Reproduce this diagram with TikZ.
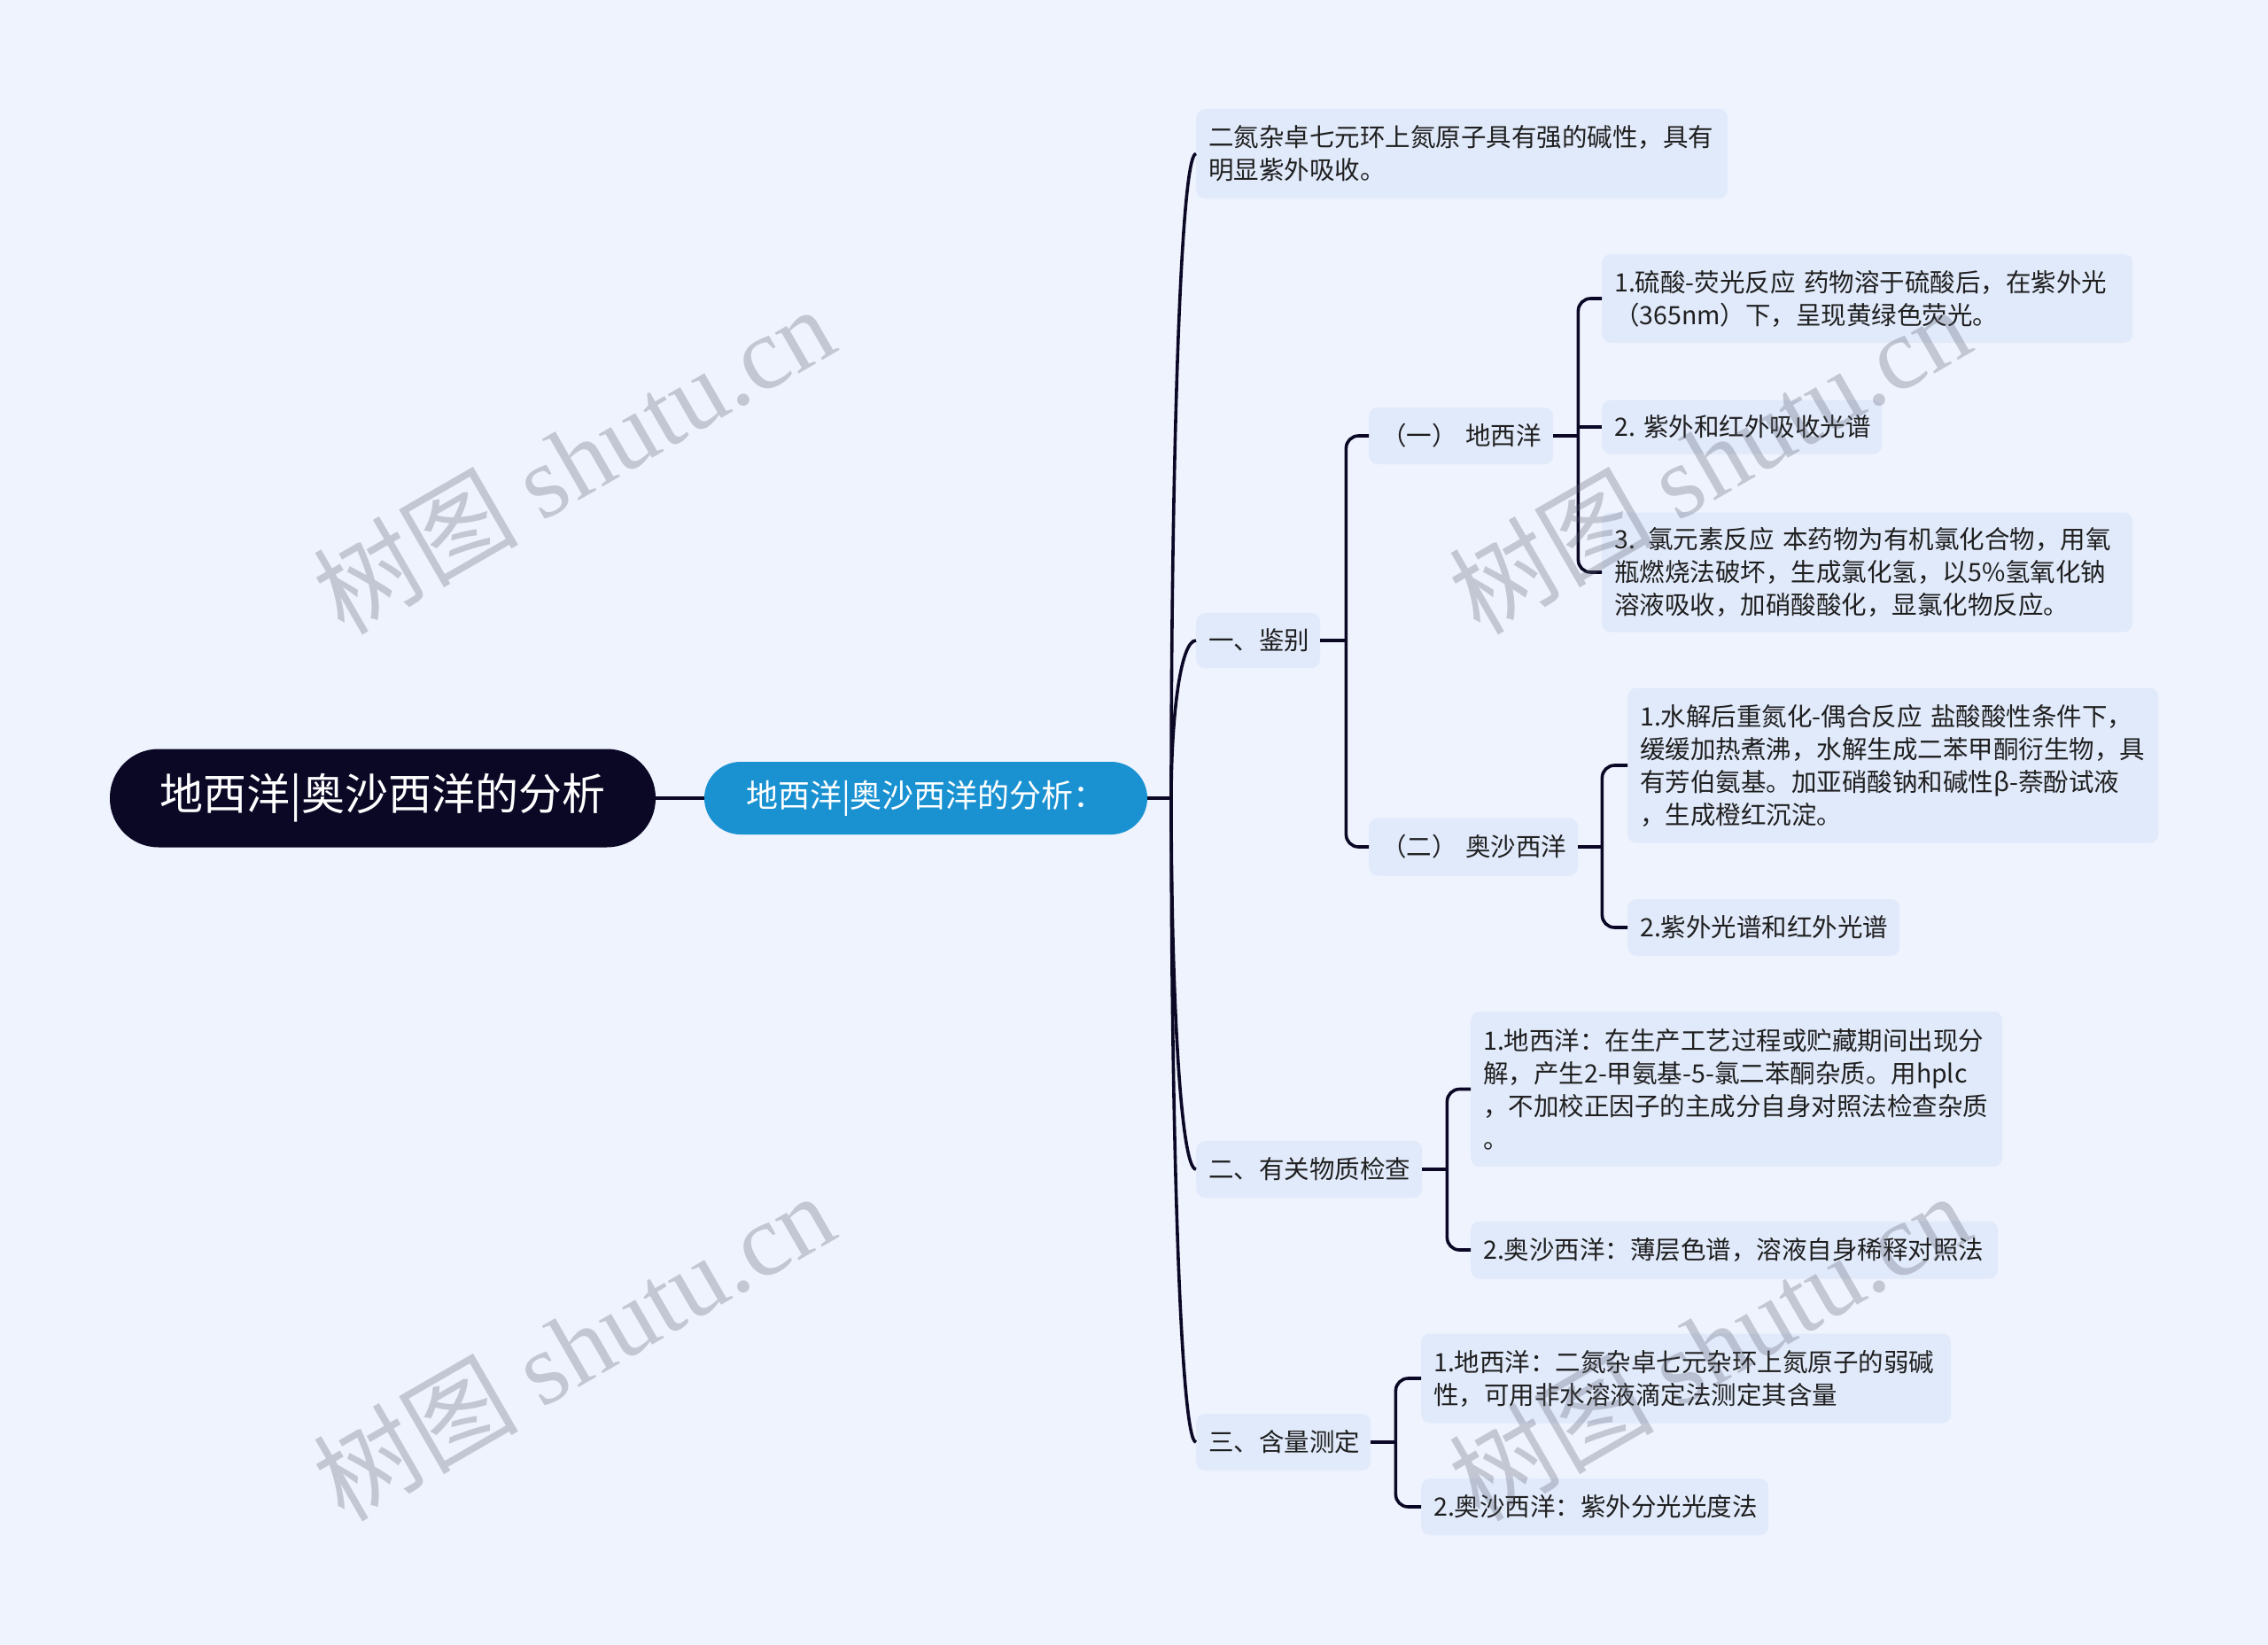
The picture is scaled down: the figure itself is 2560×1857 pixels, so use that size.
\documentclass[tikz,border=0pt]{standalone}
\usepackage{fontspec}
\setmainfont{Noto Sans CJK SC}
\newfontfamily\cjkfont{Noto Sans CJK SC}
\newfontfamily\wmserif{Liberation Serif}
\usetikzlibrary{calc}
\definecolor{bg}{HTML}{EEF3FE}
\definecolor{boxfill}{HTML}{E1EAFB}
\definecolor{navy}{HTML}{0B0826}
\definecolor{sky}{HTML}{1A92D2}
\definecolor{ink}{HTML}{1F1F1F}
\definecolor{wmgray}{HTML}{5E6270}
\begin{document}
\begin{tikzpicture}[x=1pt,y=-1pt,
  leaf/.style={anchor=west, fill=boxfill, rounded corners=10, inner xsep=14, inner ysep=0,
    align=left, text=ink, font=\fontsize{28.5}{37}\selectfont},
  rootbox/.style={fill=navy, text=white, rounded corners=55, minimum width=616, minimum height=111,
    inner sep=0, font=\fontsize{49}{56}\selectfont},
  subbox/.style={fill=sky, text=white, rounded corners=41, minimum width=500, minimum height=82,
    inner sep=0, font=\fontsize{36}{42}\selectfont},
  conn/.style={draw=navy, line width=3.6},
  elbow/.style={draw=navy, line width=3.6, rounded corners=14},
  wmark/.style={text=wmgray, opacity=0.3, rotate=30, inner sep=0}
]
\useasboundingbox (0,0) rectangle (2560,1857);
\fill[bg] (0,0) rectangle (2560,1857);

% root and sub-root
\node[rootbox] (R) at (432,901) {地西洋|奥沙西洋的分析};
\node[subbox] (S) at (1045,901) {地西洋|奥沙西洋的分析：};

% level 1
\node[leaf, text width=572, minimum height=101] (A) at (1350,173.5)
  {二氮杂卓七元环上氮原子具有强的碱性，具有\\明显紫外吸收。};
\node[leaf, text width=112, minimum height=62] (B) at (1350,723) {\mbox{一、鉴别}};
\node[leaf, text width=227, minimum height=64] (C) at (1350,1320) {\mbox{二、有关物质检查}};
\node[leaf, text width=169, minimum height=64] (D) at (1350,1628) {\mbox{三、含量测定}};

% level 2
\node[leaf, text width=180, minimum height=64] (B1) at (1545,492) {\mbox{（一）~地西洋}};
\node[leaf, text width=208, minimum height=65] (B2) at (1545,956) {\mbox{（二）~奥沙西洋}};

% level 3
\node[leaf, text width=571, minimum height=100] (B1a) at (1808,337)
  {1.硫酸-荧光反应 药物溶于硫酸后，在紫外光\\（365nm）下，呈现黄绿色荧光。};
\node[leaf, text width=288, minimum height=61] (B1b) at (1808,482) {\mbox{2.~紫外和红外吸收光谱}};
\node[leaf, text width=571, minimum height=135] (B1c) at (1808,646)
  {3. 氯元素反应 本药物为有机氯化合物，用氧\\瓶燃烧法破坏，生成氯化氢，以5\%氢氧化钠\\溶液吸收，加硝酸酸化，显氯化物反应。};
\node[leaf, text width=571, minimum height=175] (B2a) at (1837,864)
  {1.水解后重氮化-偶合反应 盐酸酸性条件下，\\缓缓加热煮沸，水解生成二苯甲酮衍生物，具\\有芳伯氨基。加亚硝酸钠和碱性β-萘酚试液\\，生成橙红沉淀。};
\node[leaf, text width=279, minimum height=64] (B2b) at (1837,1047) {\mbox{2.紫外光谱和红外光谱}};
\node[leaf, text width=572, minimum height=175] (C1) at (1660,1229.5)
  {1.地西洋：在生产工艺过程或贮藏期间出现分\\解，产生2-甲氨基-5-氯二苯酮杂质。用hplc\\，不加校正因子的主成分自身对照法检查杂质\\。};
\node[leaf, text width=567, minimum height=65] (C2) at (1660,1411) {\mbox{2.奥沙西洋：薄层色谱，溶液自身稀释对照法}};
\node[leaf, text width=570, minimum height=101] (D1) at (1604,1556)
  {1.地西洋：二氮杂卓七元杂环上氮原子的弱碱\\性，可用非水溶液滴定法测定其含量};
\node[leaf, text width=364, minimum height=64] (D2) at (1604,1701) {\mbox{2.奥沙西洋：紫外分光光度法}};

% connectors
\coordinate (J) at (1322,901);
\draw[conn] (R.east) -- (S.west);
\draw[conn] (S.east) -- (J);
\foreach \n in {A,B,C,D}
  \draw[conn] (J) .. controls ($(J)!0.5!(J|-\n.west)$) and ($(\n.west)+(-18,0)$) .. (\n.west);

\coordinate (Bj) at ($(B.east)+(29,0)$);
\draw[conn] (B.east) -- (Bj);
\draw[elbow] (Bj) |- (B1.west);
\draw[elbow] (Bj) |- (B2.west);

\coordinate (B1j) at ($(B1.east)+(28,0)$);
\draw[conn] (B1.east) -- (B1j);
\draw[elbow] (B1j) |- (B1a.west);
\draw[conn] (B1j) |- (B1b.west);
\draw[elbow] (B1j) |- (B1c.west);

\coordinate (B2j) at ($(B2.east)+(27,0)$);
\draw[conn] (B2.east) -- (B2j);
\draw[elbow] (B2j) |- (B2a.west);
\draw[elbow] (B2j) |- (B2b.west);

\coordinate (Cj) at ($(C.east)+(28,0)$);
\draw[conn] (C.east) -- (Cj);
\draw[elbow] (Cj) |- (C1.west);
\draw[elbow] (Cj) |- (C2.west);

\coordinate (Dj) at ($(D.east)+(28,0)$);
\draw[conn] (D.east) -- (Dj);
\draw[elbow] (Dj) |- (D1.west);
\draw[elbow] (Dj) |- (D2.west);

% watermarks
\foreach \p/\q in {647/518, 1929/518, 647/1519, 1929/1519}
  \node[wmark] at (\p,\q) {\fontsize{116}{116}\selectfont\cjkfont 树图 \wmserif shutu.cn};
\end{tikzpicture}
\end{document}
